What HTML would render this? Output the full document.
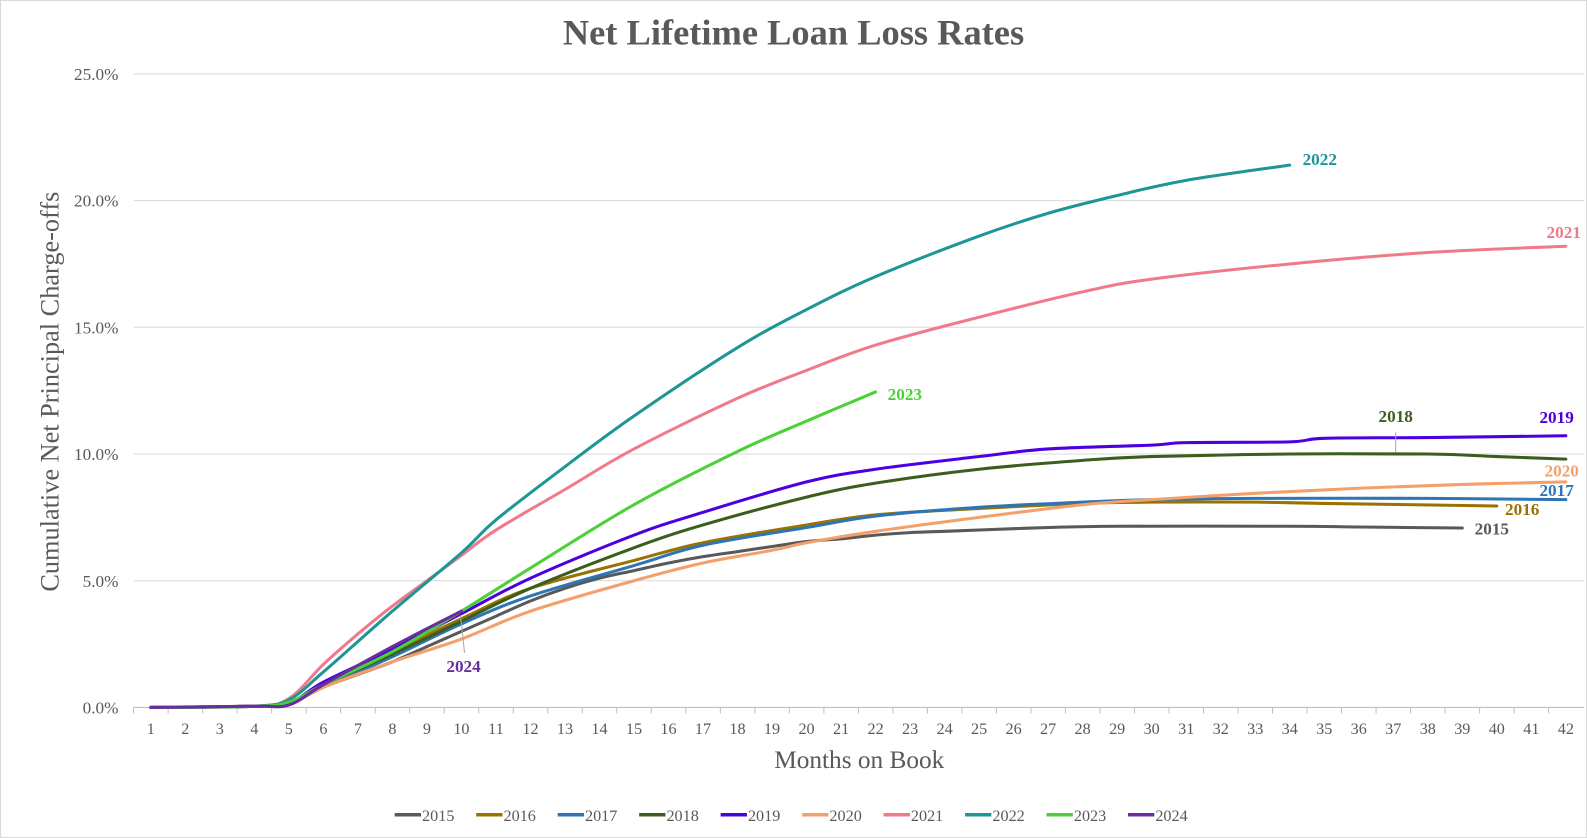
<!DOCTYPE html>
<html><head><meta charset="utf-8"><style>
body{margin:0;background:#fff}
svg{display:block;font-family:"Liberation Serif",serif}
</style></head><body>
<svg id="c" width="1587" height="838" viewBox="0 0 1568 828" preserveAspectRatio="none" xmlns="http://www.w3.org/2000/svg">
<rect x="0.5" y="0.5" width="1567" height="827" fill="#fff" stroke="#d9d9d9"/>
<text x="784" y="44" text-anchor="middle" font-size="36" font-weight="bold" fill="#595959">Net Lifetime Loan Loss Rates</text>
<text transform="translate(58,387) rotate(-90)" text-anchor="middle" font-size="26" fill="#595959">Cumulative Net Principal Charge-offs</text>
<text x="849" y="759" text-anchor="middle" font-size="25" fill="#595959">Months on Book</text>
<g id="grid"></g>
<g id="series"></g>
<g font-size="17" font-weight="bold">
<text x="1287" y="163" fill="#1E9696">2022</text>
<text x="1562" y="235" text-anchor="end" fill="#F07A8A">2021</text>
<text x="877" y="395" fill="#4CD038">2023</text>
<text x="1379" y="417" text-anchor="middle" fill="#3B5E1E">2018</text>
<text x="1555" y="418" text-anchor="end" fill="#4B00E0">2019</text>
<text x="1560" y="471" text-anchor="end" fill="#F4A06A">2020</text>
<text x="1555" y="490" text-anchor="end" fill="#2E75B6">2017</text>
<text x="1487" y="509" fill="#997300">2016</text>
<text x="1457" y="528" fill="#595959">2015</text>
<text x="458" y="664" text-anchor="middle" fill="#6A2C9E">2024</text>
</g>
<line x1="1379" y1="427" x2="1379" y2="447" stroke="#a6a6a6"/>
<line x1="459" y1="645" x2="455" y2="608" stroke="#a6a6a6"/>
<g id="legend" font-size="16" fill="#595959"></g>
</svg>
<script>
var NS="http://www.w3.org/2000/svg";
function X(m){return 149+(m-1)*34.1;}
function Y(v){return 699-v*25.04;}
function el(t,a,p,txt){var e=document.createElementNS(NS,t);for(var k in a)e.setAttribute(k,a[k]);if(txt!=null)e.textContent=txt;p.appendChild(e);return e;}
var g=document.getElementById("grid");
for(var i=0;i<=5;i++){var v=i*5,y=Y(v);
 if(i>0)el("line",{x1:132,x2:1565,y1:y,y2:y,stroke:"#d9d9d9"},g);
 el("text",{x:117,y:y+6,"text-anchor":"end","font-size":17,fill:"#595959"},g,v.toFixed(1)+"%");}
el("line",{x1:132,x2:1565,y1:699,y2:699,stroke:"#bfbfbf"},g);
for(var m=1;m<=42;m++){var x=X(m);
 el("line",{x1:x-17,x2:x-17,y1:699,y2:705,stroke:"#bfbfbf"},g);
 el("text",{x:x,y:725,"text-anchor":"middle","font-size":16,fill:"#595959"},g,m);}
var S=[
["2015","#595959",[[1,0],[2,0.02],[3,0.02],[4,0.05],[5,0.15],[6,0.8],[7,1.3],[8,1.8],[9,2.4],[10,3.0],[11,3.6],[12,4.2],[13,4.7],[14,5.1],[15,5.4],[16,5.7],[17,5.95],[18,6.15],[19,6.35],[20,6.55],[21,6.65],[22,6.8],[23,6.9],[24,6.95],[25,7.0],[27,7.1],[29,7.15],[34,7.15],[36,7.12],[39,7.08]]],
["2016","#997300",[[1,0],[4,0.05],[5,0.15],[6,0.9],[8,2.2],[10,3.5],[12,4.7],[15,5.8],[17,6.5],[20,7.2],[22,7.6],[25,7.85],[28,8.05],[30,8.1],[33,8.1],[35,8.05],[40,7.95]]],
["2017","#2E75B6",[[1,0],[4,0.05],[5,0.15],[6,0.8],[8,2.0],[10,3.3],[12,4.4],[15,5.6],[17,6.4],[20,7.1],[22,7.55],[25,7.9],[28,8.1],[30,8.2],[33,8.25],[38,8.25],[42,8.2]]],
["2020","#F4A06A",[[1,0],[4,0.05],[5,0.1],[6,0.8],[8,1.8],[10,2.7],[12,3.8],[15,5.0],[17,5.7],[19,6.2],[20,6.5],[22,6.95],[25,7.5],[28,8.0],[30,8.2],[33,8.45],[36,8.65],[39,8.8],[42,8.9]]],
["2018","#3B5E1E",[[1,0],[4,0.05],[5,0.15],[6,0.9],[8,2.1],[10,3.4],[12,4.7],[15,6.3],[17,7.2],[20,8.3],[22,8.85],[25,9.4],[28,9.75],[30,9.9],[34,10.0],[38,10.0],[40,9.9],[42,9.8]]],
["2019","#4B00E0",[[1,0],[4,0.05],[5,0.15],[6,1.0],[8,2.3],[10,3.7],[12,5.1],[15,6.8],[17,7.7],[20,8.9],[22,9.4],[25,9.9],[27,10.2],[30,10.35],[31,10.45],[34,10.48],[35,10.62],[38,10.65],[42,10.72]]],
["2021","#F07A8A",[[1,0],[4,0.05],[5,0.35],[6,1.7],[7,2.9],[8,4.0],[9,5.0],[10,6.0],[11,7.0],[13,8.6],[15,10.2],[18,12.2],[20,13.3],[22,14.3],[25,15.4],[28,16.4],[30,16.9],[34,17.5],[38,17.95],[42,18.2]]],
["2022","#1E9696",[[1,0],[4,0.05],[5,0.3],[6,1.4],[8,3.8],[10,6.1],[11,7.4],[13,9.5],[15,11.5],[18,14.2],[20,15.7],[22,17.0],[25,18.6],[27,19.5],[29,20.2],[31,20.8],[34,21.4]]],
["2023","#4CD038",[[1,0],[4,0.05],[5,0.2],[6,0.9],[8,2.2],[10,3.8],[12,5.5],[15,8.0],[18,10.1],[20,11.3],[22,12.45]]],
["2024","#6A2C9E",[[1,0],[4,0.05],[5,0.1],[6,0.9],[8,2.4],[10,3.8]]]
];
var sg=document.getElementById("series");
S.forEach(function(s){var p=s[2].map(function(q){return [X(q[0]),Y(q[1])];});
 var d="M"+p[0][0]+","+p[0][1];
 for(var i=0;i<p.length-1;i++){var p0=p[i-1]||p[i],p1=p[i],p2=p[i+1],p3=p[i+2]||p2;
  var c1x=p1[0]+(p2[0]-p0[0])/6,c1y=p1[1]+(p2[1]-p0[1])/6,c2x=p2[0]-(p3[0]-p1[0])/6,c2y=p2[1]-(p3[1]-p1[1])/6;
  d+=" C"+c1x+","+c1y+" "+c2x+","+c2y+" "+p2[0]+","+p2[1];}
 el("path",{d:d,fill:"none",stroke:s[1],"stroke-width":3,"stroke-linejoin":"round","stroke-linecap":"round"},sg);});
var lg=document.getElementById("legend");
var order=["2015","2016","2017","2018","2019","2020","2021","2022","2023","2024"];
var cols={};S.forEach(function(s){cols[s[0]]=s[1];});
order.forEach(function(n,i){var x=390+i*80.5;
 el("line",{x1:x,x2:x+26,y1:805,y2:805,stroke:cols[n],"stroke-width":3.5},lg);
 el("text",{x:x+27,y:811},lg,n);});
</script>
</body></html>
